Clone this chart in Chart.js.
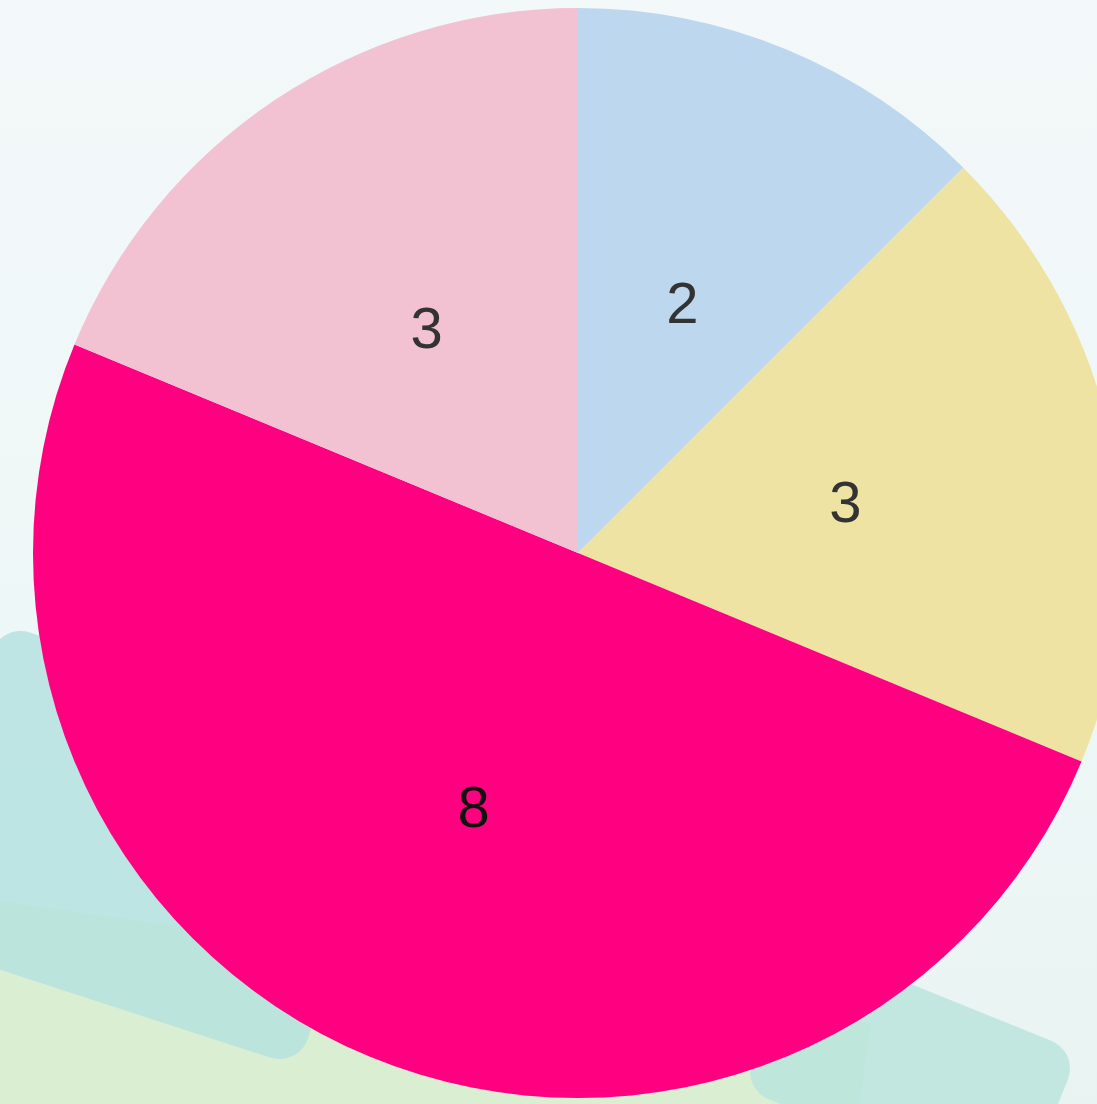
<!DOCTYPE html>
<html>
<head>
<meta charset="utf-8">
<script src="https://cdn.jsdelivr.net/npm/chart.js@4/dist/chart.umd.min.js"></script>
<style>
  html, body { margin: 0; padding: 0; width: 1097px; height: 1104px; overflow: hidden; }
  body { background: linear-gradient(180deg, #f3f8f9 0%, #eef7f7 60%, #e9f4f2 100%); position: relative; }
  .band1 { position: absolute; left: -60px; top: 680px; width: 420px; height: 330px; background: #b5e2df; transform: rotate(18deg); border-radius: 30px; opacity: 0.85; }
  .band2 { position: absolute; left: -40px; top: 960px; width: 900px; height: 220px; background: #d6ecc9; transform: rotate(8deg); opacity: 0.8; }
  .band3 { position: absolute; left: 760px; top: 990px; width: 300px; height: 160px; background: #b8e3dc; transform: rotate(22deg); border-radius: 30px; opacity: 0.8; }
  #wrap { position: absolute; left: 33px; top: 8px; width: 1090px; height: 1090px; }
</style>
</head>
<body>
<div class="band2"></div>
<div class="band1"></div>
<div class="band3"></div>
<div id="wrap"><canvas id="c" width="1090" height="1090"></canvas></div>
<script>
const categories = ["A", "B", "C", "D"];
const values = [2, 3, 8, 3];
const colors = ["#bdd7ef", "#efe3a3", "#fe0080", "#f2c1d2"];
const labelColors = ["#333333", "#333333", "#111111", "#333333"];

const valueLabels = {
  id: 'valueLabels',
  afterDatasetsDraw(chart) {
    const ctx = chart.ctx;
    const meta = chart.getDatasetMeta(0);
    ctx.save();
    ctx.font = '58px "Liberation Sans", Arial, sans-serif';
    ctx.textAlign = 'center';
    ctx.textBaseline = 'middle';
    meta.data.forEach((arc, i) => {
      const p = arc.tooltipPosition();
      ctx.fillStyle = labelColors[i];
      ctx.fillText(String(chart.data.datasets[0].data[i]), p.x, p.y + 6);
    });
    ctx.restore();
  }
};

new Chart(document.getElementById('c'), {
  type: 'pie',
  data: {
    labels: categories,
    datasets: [{
      data: values,
      backgroundColor: colors,
      borderWidth: 0
    }]
  },
  options: {
    responsive: false,
    animation: false,
    layout: { padding: 0 },
    plugins: { legend: { display: false }, tooltip: { enabled: false } }
  },
  plugins: [valueLabels]
});
</script>
</body>
</html>
